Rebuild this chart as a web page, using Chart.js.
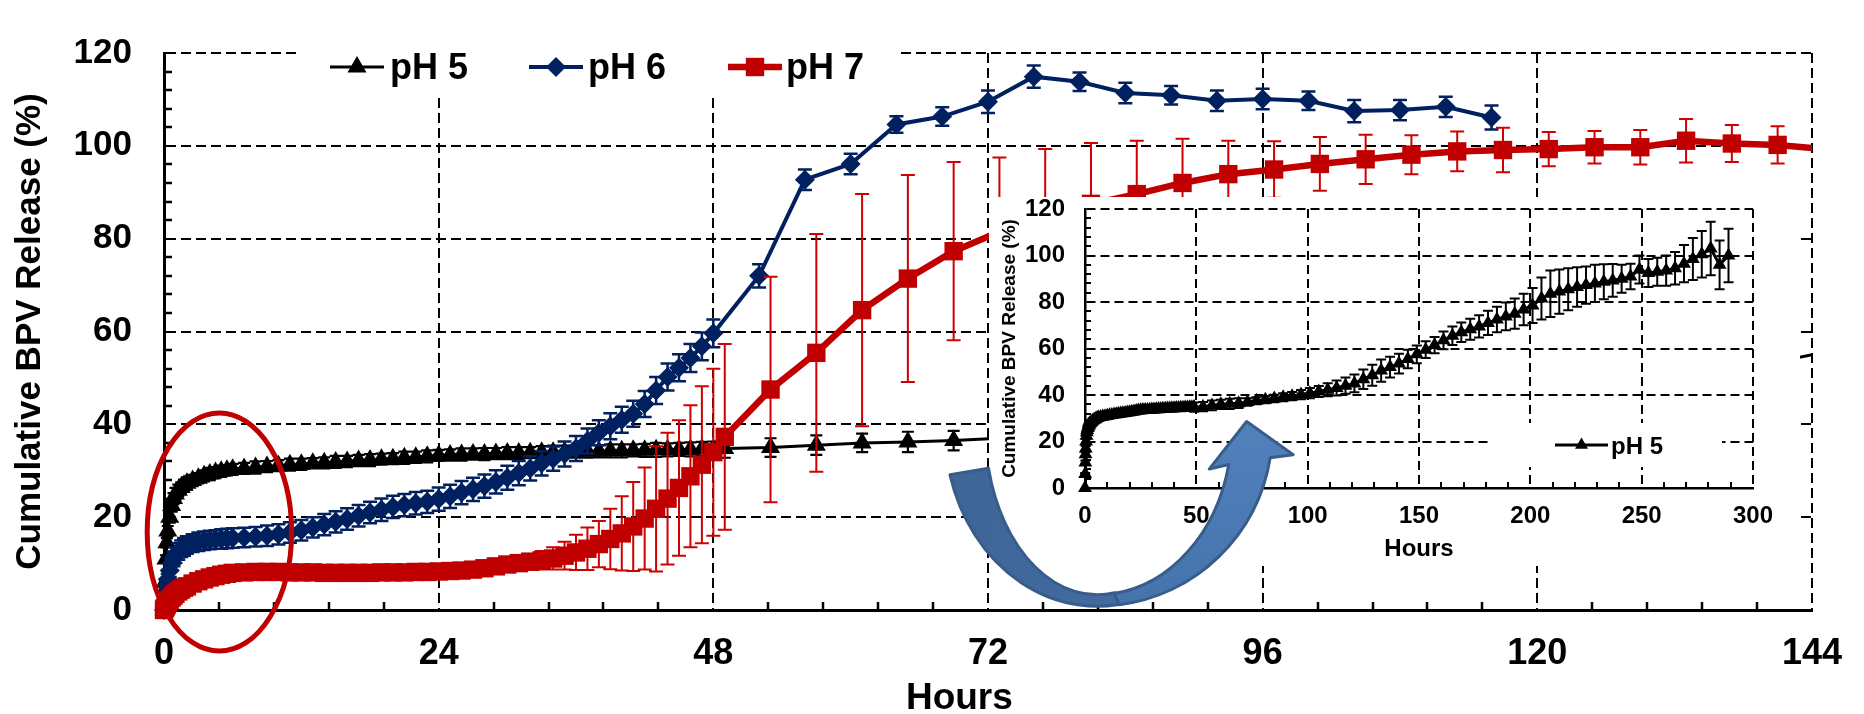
<!DOCTYPE html>
<html>
<head>
<meta charset="utf-8">
<script src="https://cdn.jsdelivr.net/npm/chart.js@4.4.1/dist/chart.umd.min.js"></script>
<style>
  html, body { margin: 0; padding: 0; background: #fff; }
  #wrap { position: relative; width: 1864px; height: 714px; }
  #wrap canvas { position: absolute; left: 0; top: 0; }
</style>
</head>
<body>
<div id="wrap">
  <canvas id="mainChart" width="1864" height="714"></canvas>
  <canvas id="insetChart" width="1864" height="714"></canvas>
</div>
<script>
// sampling times (h): dense first two days, then every 4 h
var hoursEarly = [0, 0.08, 0.17, 0.25, 0.33, 0.5, 0.67, 0.83, 1, 1.25, 1.5, 1.75, 2, 2.5, 3, 3.5, 4, 4.5, 5, 5.5, 6,
  7, 8, 9, 10, 11, 12, 13, 14, 15, 16, 17, 18, 19, 20, 21, 22, 23, 24, 25, 26, 27,
  28, 29, 30, 31, 32, 33, 34, 35, 36, 37, 38, 39, 40, 41, 42, 43, 44, 45, 46, 47, 48];
var hoursLate = [49, 53, 57, 61, 65, 69,
  73, 77, 81, 85, 89, 93, 97,
  101, 105, 109, 113, 117, 121, 125,
  129, 133, 137, 141, 145, 149, 153,
  157, 161, 165, 169, 173, 177, 181,
  185, 189, 193, 197, 201, 205, 209,
  213, 217, 221, 225, 229, 233, 237,
  241, 245, 249, 253, 257, 261, 265,
  269, 273, 277, 281, 285, 289];
var hoursLatePH6 = [52, 56, 60, 64, 68, 72, 76, 80, 84, 88, 92, 96, 100, 104, 108, 112, 116];

var seriesLabels = ['pH 5', 'pH 6', 'pH 7'];

// cumulative release (%) and SD
var ph5Early = [0, 6, 11, 14.5, 17, 20, 22.5, 24, 25, 25.8, 26.4, 26.9, 27.3, 27.9, 28.4, 28.9, 29.3, 29.6, 29.9, 30.1, 30.3,
  30.5, 30.7, 30.9, 31.1, 31.3, 31.4, 31.6, 31.7, 31.9, 32.0, 32.2, 32.3, 32.5, 32.6, 32.8, 32.9, 33.1, 33.3, 33.4, 33.5, 33.6,
  33.6, 33.7, 33.8, 33.8, 33.9, 34.0, 34.0, 34.1, 34.1, 34.2, 34.2, 34.3, 34.3, 34.4, 34.4, 34.5, 34.5, 34.6, 34.6, 34.7, 34.7];
var ph5Late = [34.8, 35.0, 35.5, 36.0, 36.2, 36.5,
  37.0, 37.5, 38.0, 38.5, 39.0, 39.5, 40.2,
  40.8, 41.5, 42.3, 43.0, 44.0, 45.0, 46.8,
  48.5, 50.5, 52.0, 53.5, 55.5, 57.5, 59.5,
  61.5, 63.5, 65.5, 67.0, 68.3, 69.5, 71.0,
  72.5, 73.8, 75.0, 76.8, 78.5, 81.5, 83.5,
  84.5, 85.5, 86.5, 87.3, 88.0, 88.7, 89.3,
  90.0, 91.0, 94.0, 92.5, 93.0, 93.5, 94.5,
  96.5, 98.5, 100.5, 103.0, 96.0, 100.0];
var ph5ErrEarly = [0, 0.5, 0.8, 1.0, 1.1, 1.2, 1.3, 1.2, 1.3, 1.2, 1.1, 1.2, 1.3, 1.2, 1.1, 1.2, 1.3, 1.2, 1.2, 1.1, 1.2,
  1.2, 1.3, 1.2, 1.2, 1.3, 1.2, 1.1, 1.2, 1.3, 1.2, 1.2, 1.3, 1.2, 1.2, 1.3, 1.2, 1.3, 1.2, 1.2, 1.3, 1.2,
  1.3, 1.2, 1.3, 1.3, 1.2, 1.3, 1.4, 1.3, 1.3, 1.4, 1.3, 1.4, 1.4, 1.3, 1.4, 1.5, 1.4, 1.4, 1.5, 1.5, 1.6];
var ph5ErrLate = [2.0, 2.0, 2.1, 2.0, 2.2, 2.1,
  1.6, 1.5, 1.5, 1.6, 1.7, 1.8, 2.0,
  2.2, 2.4, 2.8, 3.2, 3.5, 3.8, 4.2,
  4.5, 4.8, 4.5, 4.2, 4.0, 3.8, 3.6,
  3.5, 3.8, 4.0, 4.2, 4.5, 4.8, 5.2,
  5.5, 6.0, 6.5, 6.8, 7.5, 9.0, 10.0,
  9.5, 9.0, 8.5, 8.0, 8.0, 7.5, 7.0,
  6.0, 5.5, 6.0, 6.0, 6.0, 6.5, 7.0,
  8.0, 9.0, 10.0, 11.5, 10.5, 11.5];

var ph6Early = [0, 2, 3.8, 5.3, 6.6, 8.5, 10, 11, 11.8, 12.6, 13.2, 13.6, 14, 14.4, 14.7, 14.9, 15.1, 15.2, 15.3, 15.4, 15.5,
  15.6, 15.8, 16.0, 16.3, 16.7, 17.2, 17.8, 18.4, 19.0, 19.6, 20.3, 21.0, 21.6, 22.2, 22.6, 23.0, 23.3, 23.9, 24.5, 25.3, 26.0,
  26.7, 27.6, 28.5, 29.5, 30.5, 31.6, 32.6, 33.6, 34.8, 36.4, 38.2, 39.6, 41.0, 42.3, 44.4, 47.3, 50.2, 52.2, 54.3, 56.8, 59.6];
var ph6Late = [72.0, 92.7, 96.1, 104.6, 106.3, 109.5, 114.9, 113.8, 111.4, 110.9, 109.7, 110.1, 109.7, 107.5, 107.7, 108.4, 106.1];
var ph6ErrEarly = [0, 0.5, 0.8, 1.0, 1.2, 1.4, 1.5, 1.6, 1.7, 1.8, 1.8, 1.9, 1.9, 1.9, 2.0, 2.0, 2.0, 2.0, 2.1, 2.1, 2.1,
  2.1, 2.1, 2.2, 2.2, 2.2, 2.2, 2.2, 2.3, 2.3, 2.3, 2.3, 2.3, 2.4, 2.4, 2.4, 2.4, 2.4, 2.5, 2.5, 2.5, 2.5,
  2.5, 2.5, 2.6, 2.6, 2.6, 2.6, 2.6, 2.7, 2.7, 2.7, 2.7, 2.8, 2.8, 2.8, 2.8, 2.9, 2.9, 2.9, 3.0, 3.0, 3.0];
var ph6ErrLate = [2.5, 2.2, 2.2, 1.8, 2.0, 2.4, 2.4, 2.0, 2.2, 2.0, 2.2, 2.2, 2.0, 2.4, 2.2, 2.2, 2.6];

var ph7Early = [0, 0.4, 0.8, 1.2, 1.6, 2.2, 2.7, 3.1, 3.5, 4.0, 4.4, 4.8, 5.1, 5.7, 6.2, 6.6, 7.0, 7.3, 7.6, 7.8, 8.0,
  8.1, 8.2, 8.2, 8.2, 8.1, 8.1, 8.1, 8.0, 8.0, 8.0, 8.0, 8.0, 8.1, 8.1, 8.1, 8.2, 8.2, 8.3, 8.4, 8.5, 8.7,
  9.0, 9.4, 9.8, 10.1, 10.4, 10.7, 11.1, 11.7, 12.4, 13.2, 14.2, 15.3, 16.5, 18.0, 19.7, 21.8, 24.0, 26.3, 28.8, 31.3, 34.0];
var ph7Late = [37.3, 47.5, 55.4, 64.6, 71.4, 77.3, 81.5, 85.1, 87.5, 89.6, 92.0, 93.9, 94.9,
  96.1, 97.1, 98.1, 98.8, 99.1, 99.3, 99.7, 99.7, 101.1, 100.5, 100.2, 99.3];
var ph7ErrEarly = [0, 0.2, 0.3, 0.3, 0.4, 0.4, 0.5, 0.5, 0.5, 0.5, 0.6, 0.6, 0.6, 0.6, 0.6, 0.6, 0.6, 0.6, 0.6, 0.6, 0.6,
  0.6, 0.6, 0.6, 0.6, 0.6, 0.6, 0.6, 0.6, 0.6, 0.6, 0.6, 0.6, 0.6, 0.6, 0.6, 0.6, 0.6, 0.7, 0.7, 0.7, 0.8,
  0.9, 1.0, 1.2, 1.4, 1.7, 2.0, 2.4, 3.0, 3.8, 4.6, 5.0, 6.5, 8.0, 9.6, 11.0, 13.5, 14.2, 14.6, 15.3, 16.9, 18.0];
var ph7ErrLate = [20, 24.3, 25.6, 25, 22.3, 19.2, 16, 14.2, 13.1, 11.5, 9.5, 7.2, 6.1,
  5.8, 5.3, 4.2, 4.3, 4.8, 3.7, 3.5, 3.7, 4.7, 4.0, 4.0, 3.5];

// axis ticks
var mainXTicks = [0, 24, 48, 72, 96, 120, 144];
var mainYTicks = [0, 20, 40, 60, 80, 100, 120];
var insetXTicks = [0, 50, 100, 150, 200, 250, 300];
var insetYTicks = [0, 20, 40, 60, 80, 100, 120];

// call-outs, in main-chart units (hours, %)
var ringSpec = { cx: 4.84, cy: 16.8, rx: 6.31, ry: 25.64 };
var arrowSpec = {
  cx: 81.55, cy: 38.97,
  outerL: 13.32, outerR: 15.31, outerY: 38.15,
  innerL: 9.78, innerR: 11.76, innerY: 35.69,
  head: [[98.67, 33.44], [94.6, 40.6], [91.33, 30.36]]
};

var FONT = "'Liberation Sans', Arial, Helvetica, sans-serif";
var RED = '#C00000', NAVY = '#002060', BLACK = '#000000';

function toPoints(xs, ys) {
  return ys.map(function (v, i) { return { x: xs[i], y: v }; });
}

var ph5Hours = hoursEarly.concat(hoursLate);
var ph6Hours = hoursEarly.concat(hoursLatePH6);
var ph7Hours = hoursEarly.concat(hoursLate.slice(0, ph7Late.length));

// vertical SD bars, drawn just under each dataset
var errorBars = {
  id: 'errorBars',
  beforeDatasetDraw: function (chart, args) {
    var ds = chart.data.datasets[args.index];
    if (!ds.errors) return;
    var ctx = chart.ctx, a = chart.chartArea, xs = chart.scales.x, ys = chart.scales.y;
    var cap = ds.capWidth || 6;
    ctx.save();
    ctx.beginPath();
    ctx.rect(a.left - 12, a.top - 12, a.right - a.left + 12, a.bottom - a.top + 24);
    ctx.clip();
    ctx.strokeStyle = ds.errorColor || ds.borderColor;
    ctx.lineWidth = ds.errorWidth || 2;
    ctx.beginPath();
    ds.data.forEach(function (p, i) {
      var e = ds.errors[i];
      if (!e) return;
      var px = xs.getPixelForValue(p.x);
      var t = ys.getPixelForValue(p.y + e), b = ys.getPixelForValue(p.y - e);
      ctx.moveTo(px, t); ctx.lineTo(px, b);
      ctx.moveTo(px - cap, t); ctx.lineTo(px + cap, t);
      ctx.moveTo(px - cap, b); ctx.lineTo(px + cap, b);
    });
    ctx.stroke();
    ctx.restore();
  }
};

// short inward minor ticks on both axes
var minorTicks = {
  id: 'minorTicks',
  beforeDatasetsDraw: function (chart, args, opts) {
    var ctx = chart.ctx, a = chart.chartArea, xs = chart.scales.x, ys = chart.scales.y;
    var k, p;
    ctx.save();
    ctx.strokeStyle = '#000';
    ctx.lineWidth = opts.width;
    ctx.beginPath();
    for (k = 1; k * opts.xStep < xs.max - 1e-6; k++) {
      if (k % opts.per === 0) continue;
      p = Math.round(xs.getPixelForValue(k * opts.xStep));
      ctx.moveTo(p, a.bottom); ctx.lineTo(p, a.bottom - opts.len);
    }
    for (k = 1; k * opts.yStep < ys.max - 1e-6; k++) {
      if (k % opts.per === 0) continue;
      p = Math.round(ys.getPixelForValue(k * opts.yStep));
      ctx.moveTo(a.left, p); ctx.lineTo(a.left + opts.len, p);
    }
    ctx.stroke();
    ctx.restore();
  }
};

function legendEntry(ctx, ds, x0, x1, y, textX, baseline, font, radius) {
  ctx.strokeStyle = ds.borderColor;
  ctx.lineWidth = ds.borderWidth;
  ctx.beginPath();
  ctx.moveTo(x0, y); ctx.lineTo(x1, y);
  ctx.stroke();
  ctx.fillStyle = ds.borderColor;
  Chart.helpers.drawPoint(ctx, { pointStyle: ds.pointStyle, radius: radius || ds.pointRadius, rotation: 0, borderWidth: 0 }, (x0 + x1) / 2, y);
  ctx.fillStyle = '#000';
  ctx.font = font;
  ctx.textAlign = 'left';
  ctx.textBaseline = 'alphabetic';
  ctx.fillText(ds.label, textX, baseline);
}

function findSet(chart, label) {
  return chart.data.datasets.filter(function (d) { return d.label === label; })[0];
}

var mainDecor = {
  id: 'mainDecor',
  afterDatasetsDraw: function (chart) {
    var ctx = chart.ctx, xs = chart.scales.x, ys = chart.scales.y;
    var cx = xs.getPixelForValue(ringSpec.cx), cy = ys.getPixelForValue(ringSpec.cy);
    var rx = xs.getPixelForValue(ringSpec.cx + ringSpec.rx) - cx;
    var ry = cy - ys.getPixelForValue(ringSpec.cy + ringSpec.ry);
    ctx.save();
    ctx.strokeStyle = RED;
    ctx.lineWidth = 5;
    ctx.beginPath();
    ctx.ellipse(cx, cy, rx, ry, 0, 0, Math.PI * 2);
    ctx.stroke();
    ctx.restore();
  },
  afterDraw: function (chart) {
    var ctx = chart.ctx;
    ctx.save();
    ctx.fillStyle = '#fff';
    ctx.fillRect(300, 28, 600, 65);
    var f = 'bold 36px ' + FONT;
    legendEntry(ctx, findSet(chart, seriesLabels[0]), 330, 384, 67, 390, 79, f);
    legendEntry(ctx, findSet(chart, seriesLabels[1]), 529, 583, 67, 588, 79, f);
    legendEntry(ctx, findSet(chart, seriesLabels[2]), 728, 782, 67, 786, 79, f);
    // x-axis caption, set a little left of the plot centre
    ctx.fillStyle = '#000';
    ctx.font = 'bold 37px ' + FONT;
    ctx.textAlign = 'center';
    ctx.textBaseline = 'alphabetic';
    ctx.fillText('Hours', chart.scales.x.getPixelForValue(69.5), 709);
    ctx.restore();
  }
};

var mainChart = new Chart(document.getElementById('mainChart'), {
  type: 'line',
  data: {
    datasets: [
      {
        label: seriesLabels[2], data: toPoints(ph7Hours, ph7Early.concat(ph7Late)),
        errors: ph7ErrEarly.concat(ph7ErrLate), errorColor: '#D00000', errorWidth: 2, capWidth: 7,
        borderColor: RED, backgroundColor: RED, borderWidth: 6.5,
        pointStyle: 'rect', pointRadius: 13, pointBorderWidth: 0, order: 0
      },
      {
        label: seriesLabels[1], data: toPoints(ph6Hours, ph6Early.concat(ph6Late)),
        errors: ph6ErrEarly.concat(ph6ErrLate), errorWidth: 2.5, capWidth: 7,
        borderColor: NAVY, backgroundColor: NAVY, borderWidth: 4,
        pointStyle: 'rectRot', pointRadius: 10, pointBorderWidth: 0, order: 1
      },
      {
        label: seriesLabels[0], data: toPoints(ph5Hours, ph5Early.concat(ph5Late)),
        errors: ph5ErrEarly.concat(ph5ErrLate), errorWidth: 2.2, capWidth: 6,
        borderColor: BLACK, backgroundColor: BLACK, borderWidth: 3,
        pointStyle: 'triangle', pointRadius: 11, pointBorderWidth: 0, order: 2
      }
    ]
  },
  options: {
    responsive: false, animation: false, devicePixelRatio: 1, events: [],
    layout: { padding: { left: 0, top: 25, right: 35, bottom: 0 } },
    datasets: { line: { clip: { left: 12, top: 12, right: 0, bottom: 12 } } },
    elements: { line: { tension: 0 } },
    plugins: {
      legend: { display: false }, tooltip: { enabled: false },
      minorTicks: { xStep: 4.8, yStep: 4, per: 5, len: 8, width: 2.5 }
    },
    scales: {
      x: {
        type: 'linear', min: 0, max: 144,
        afterBuildTicks: function (s) { s.ticks = mainXTicks.map(function (v) { return { value: v }; }); },
        afterFit: function (s) { s.height = 104; },
        grid: { color: '#000', lineWidth: 2, drawTicks: false },
        border: { color: '#000', width: 3, dash: [10, 5] },
        ticks: { color: '#000', padding: 22, maxRotation: 0, autoSkip: false, font: { family: FONT, size: 36, weight: 'bold' } },
        title: { display: false }
      },
      y: {
        min: 0, max: 120,
        afterBuildTicks: function (s) { s.ticks = mainYTicks.map(function (v) { return { value: v }; }); },
        afterFit: function (s) { s.width = 164; },
        grid: { color: '#000', lineWidth: 2, drawTicks: false },
        border: { color: '#000', width: 3, dash: [10, 5] },
        ticks: { color: '#000', padding: 32, autoSkip: false, font: { family: FONT, size: 35, weight: 'bold' } },
        title: { display: true, text: 'Cumulative BPV Release (%)', color: '#000', padding: { top: 9 }, font: { family: FONT, size: 35, weight: 'bold' } }
      }
    }
  },
  plugins: [errorBars, minorTicks, mainDecor]
});

function drawArrow(ctx) {
  var xs = mainChart.scales.x, ys = mainChart.scales.y, s = arrowSpec;
  var cx = xs.getPixelForValue(s.cx), cy = ys.getPixelForValue(s.cy);
  function rx(d) { return xs.getPixelForValue(s.cx + d) - cx; }
  function ry(d) { return cy - ys.getPixelForValue(s.cy + d); }
  var head = s.head.map(function (p) { return [xs.getPixelForValue(p[0]), ys.getPixelForValue(p[1])]; });
  var PI = Math.PI;
  ctx.save();
  ctx.lineJoin = 'round';
  ctx.strokeStyle = '#385D8A';
  ctx.lineWidth = 3;

  // back sweep (tail side)
  var g1 = ctx.createLinearGradient(cx - rx(s.outerL), cy, cx + rx(s.outerR), cy);
  g1.addColorStop(0, '#3F6598');
  g1.addColorStop(1, '#4670A6');
  ctx.fillStyle = g1;
  ctx.beginPath();
  ctx.ellipse(cx, cy, rx(s.outerL), ry(s.outerY), 0, PI - 0.261, 0.4 * PI, true);
  ctx.ellipse(cx, cy, rx(s.innerL), ry(s.innerY), 0, 0.45 * PI, PI - 0.238, false);
  ctx.closePath();
  ctx.fill();
  ctx.stroke();

  // front sweep with head
  var g2 = ctx.createLinearGradient(0, cy - ry(s.outerY) * 0.3, 0, cy + ry(s.outerY));
  g2.addColorStop(0, '#5584C0');
  g2.addColorStop(1, '#4573AC');
  ctx.fillStyle = g2;
  ctx.beginPath();
  ctx.ellipse(cx, cy, rx(s.outerR), ry(s.outerY), 0, 0.46 * PI, 0.162, true);
  ctx.lineTo(head[0][0], head[0][1]);
  ctx.lineTo(head[1][0], head[1][1]);
  ctx.lineTo(head[2][0], head[2][1]);
  ctx.ellipse(cx, cy, rx(s.innerR), ry(s.innerY), 0, 0.215, 0.46 * PI, false);
  ctx.closePath();
  ctx.fill();
  ctx.stroke();
  ctx.restore();
}

var insetDecor = {
  id: 'insetDecor',
  beforeDraw: function (chart) {
    var ctx = chart.ctx;
    ctx.save();
    ctx.fillStyle = '#fff';
    ctx.fillRect(989, 197, 811, 369);
    ctx.restore();
  },
  afterDatasetsDraw: function (chart) {
    var ctx = chart.ctx;
    ctx.save();
    ctx.fillStyle = '#fff';
    ctx.fillRect(1489, 423, 233, 44);
    legendEntry(ctx, chart.data.datasets[0], 1555, 1608, 445, 1611, 454, 'bold 24px ' + FONT, 7.5);
    ctx.restore();
  },
  afterDraw: function (chart) {
    drawArrow(chart.ctx);
  }
};

new Chart(document.getElementById('insetChart'), {
  type: 'line',
  data: {
    datasets: [{
      label: seriesLabels[0], data: toPoints(ph5Hours, ph5Early.concat(ph5Late)),
      errors: ph5ErrEarly.concat(ph5ErrLate), errorWidth: 2, capWidth: 5,
      borderColor: BLACK, backgroundColor: BLACK, borderWidth: 3,
      pointStyle: 'triangle', pointRadius: 8, pointBorderWidth: 0
    }]
  },
  options: {
    responsive: false, animation: false, devicePixelRatio: 1, events: [],
    layout: { padding: { left: 989, top: 209, right: 111, bottom: 148 } },
    datasets: { line: { clip: { left: 10, top: 10, right: 10, bottom: 10 } } },
    elements: { line: { tension: 0 } },
    plugins: {
      legend: { display: false }, tooltip: { enabled: false },
      minorTicks: { xStep: 10, yStep: 4, per: 5, len: 6, width: 2 }
    },
    scales: {
      x: {
        type: 'linear', min: 0, max: 300,
        afterBuildTicks: function (s) { s.ticks = insetXTicks.map(function (v) { return { value: v }; }); },
        afterFit: function (s) { s.height = 78; },
        grid: { color: '#000', lineWidth: 2, drawTicks: false },
        border: { color: '#000', width: 2.5, dash: [9, 5] },
        ticks: { color: '#000', padding: 14, maxRotation: 0, autoSkip: false, font: { family: FONT, size: 24, weight: 'bold' } },
        title: { display: true, text: 'Hours', color: '#000', padding: { bottom: 2 }, font: { family: FONT, size: 24, weight: 'bold' } }
      },
      y: {
        min: 0, max: 120,
        afterBuildTicks: function (s) { s.ticks = insetYTicks.map(function (v) { return { value: v }; }); },
        afterFit: function (s) { s.width = 96; },
        grid: { color: '#000', lineWidth: 2, drawTicks: false },
        border: { color: '#000', width: 2.5, dash: [9, 5] },
        ticks: { color: '#000', padding: 20, autoSkip: false, font: { family: FONT, size: 24, weight: 'bold' } },
        title: { display: true, text: 'Cumulative BPV Release (%)', color: '#000', padding: { top: 9 }, font: { family: FONT, size: 19, weight: 'bold' } }
      }
    }
  },
  plugins: [errorBars, minorTicks, insetDecor]
});
</script>
</body>
</html>
